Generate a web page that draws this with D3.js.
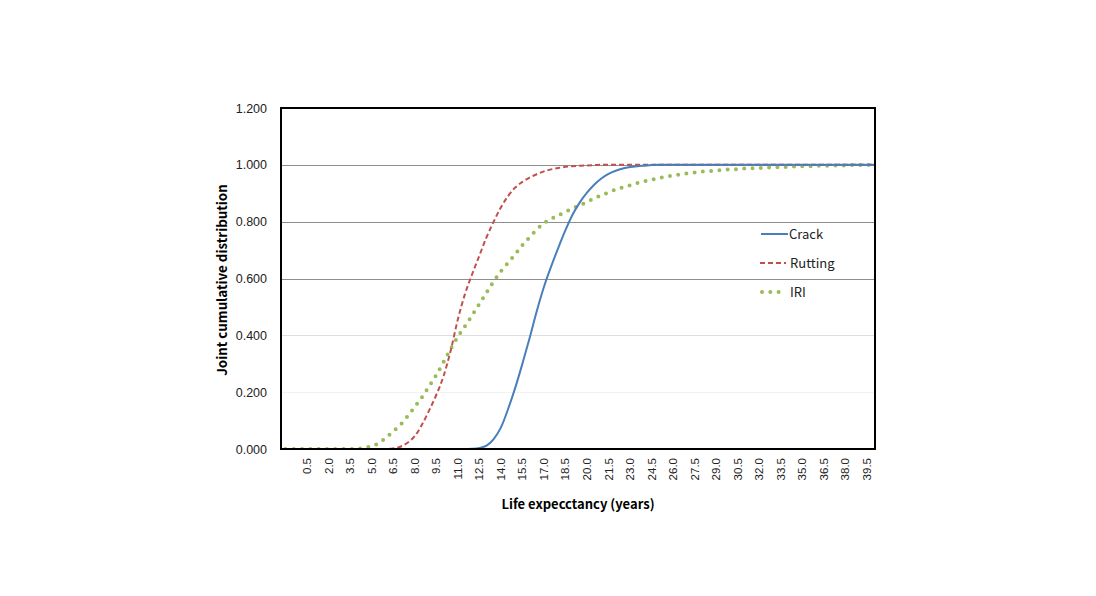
<!DOCTYPE html>
<html>
<head>
<meta charset="utf-8">
<script src="https://cdn.jsdelivr.net/npm/d3@7"></script>
<style>
  body { margin: 0; background: #fff; }
  svg { display: block; }
</style>
</head>
<body>
<svg id="chart" width="1096" height="596"></svg>
<script>
// ---- data (years at 0.5 step, from -1.0 to 40.0 : 83 points) ----
const years = d3.range(-1.0, 40.01, 0.5).map(v => +v.toFixed(1));

const crack = [
  0,0,0,0,0,0,0,0,0,0,                                         // -1.0 .. 3.5
  0,0,0,0,0,0,0,0,0,0,                                         // 4.0 .. 8.5
  0,0,0,0,0,0,                                                 // 9.0 .. 11.5
  0.001,0.004,0.012,0.035,0.075,0.14,0.215,0.30,0.39,0.485,    // 12.0 .. 16.5
  0.57,0.642,0.708,0.77,0.825,0.868,0.902,0.93,0.952,0.968,    // 17.0 .. 21.5
  0.979,0.987,0.992,0.995,0.997,0.999,                         // 22.0 .. 24.5
  1,1,1,1,1,1,1,1,1,1,                                         // 25.0 .. 29.5
  1,1,1,1,1,1,1,1,1,1,                                         // 30.0 .. 34.5
  1,1,1,1,1,1,1,1,1,1,                                         // 35.0 .. 39.5
  1                                                            // 40.0
];

const rutting = [
  0,0,0,0,0,0,0,0,0,0,                                         // -1.0 .. 3.5
  0,0,0,0,0,                                                   // 4.0 .. 6.0
  0.002,0.008,0.022,0.045,0.085,0.135,0.19,0.255,0.345,0.455,  // 6.5 .. 11.0
  0.545,0.615,0.68,0.745,0.80,0.85,0.89,0.92,0.94,0.955,       // 11.5 .. 16.0
  0.967,0.977,0.984,0.989,0.993,0.995,0.997,0.998,0.999,       // 16.5 .. 20.5
  1,1,1,1,1,1,1,1,1,1,                                         // 21.0 .. 25.5
  1,1,1,1,1,1,1,1,1,1,                                         // 26.0 .. 30.5
  1,1,1,1,1,1,1,1,1,1,                                         // 31.0 .. 35.5
  1,1,1,1,1,1,1,1,1                                            // 36.0 .. 40.0
];

const iri = [
  0,0,0,0,0,0,0,0,0,0,                                         // -1.0 .. 3.5
  0.001,0.004,0.01,0.02,0.04,0.062,0.085,0.115,0.148,0.182,    // 4.0 .. 8.5
  0.22,0.26,0.305,0.352,0.395,0.432,0.47,0.51,0.55,0.59,       // 9.0 .. 13.5
  0.625,0.655,0.685,0.717,0.745,0.772,0.795,0.81,0.822,0.835,  // 14.0 .. 18.5
  0.847,0.858,0.869,0.882,0.893,0.903,0.913,0.921,0.928,0.936, // 19.0 .. 23.5
  0.942,0.948,0.953,0.958,0.962,0.966,0.97,0.973,0.976,0.978,  // 24.0 .. 28.5
  0.98,0.982,0.984,0.985,0.987,0.988,0.989,0.99,0.991,0.992,   // 29.0 .. 33.5
  0.993,0.994,0.995,0.995,0.996,0.997,0.997,0.998,0.998,0.999, // 34.0 .. 38.5
  0.999,0.999,1.0                                              // 39.0 .. 40.0
];

const xTickLabels = ["0.5","2.0","3.5","5.0","6.5","8.0","9.5","11.0","12.5","14.0","15.5","17.0","18.5",
  "20.0","21.5","23.0","24.5","26.0","27.5","29.0","30.5","32.0","33.5","35.0","36.5","38.0","39.5"];
const yTicks = [0, 0.2, 0.4, 0.6, 0.8, 1.0, 1.2];

const seriesNames = ["Crack", "Rutting", "IRI"];

// ---- layout ----
const svg = d3.select("#chart");
const pLeft = 281, pRight = 875, pTop = 108, pBottom = 449;

const x = d3.scaleLinear().domain([0.5, 39.5]).range([307, 867]);
const y = d3.scaleLinear().domain([0, 1.2]).range([pBottom, pTop]);

const gridColor = d => d >= 0.55 ? "#8e8e8e" : (d > 0.3 ? "#dedede" : "#f2f2f2");

// gridlines
svg.append("g").selectAll("line")
  .data(yTicks.filter(d => d > 0 && d < 1.2))
  .join("line")
  .attr("x1", pLeft).attr("x2", pRight)
  .attr("y1", d => Math.round(y(d)) + 0.5).attr("y2", d => Math.round(y(d)) + 0.5)
  .attr("stroke", gridColor)
  .attr("stroke-width", 1);

// y axis labels
const yAxis = d3.axisLeft(y).tickValues(yTicks).tickFormat(d3.format(".3f")).tickSize(0).tickPadding(14);
const gy = svg.append("g").attr("transform", `translate(${pLeft},0)`).call(yAxis);
gy.select(".domain").remove();
gy.selectAll("text").attr("font-family", "Liberation Sans, Arial, sans-serif").attr("font-size", 12.5).attr("fill", "#222");

// x axis labels (rotated)
const gx = svg.append("g").attr("transform", `translate(0,${pBottom})`);
gx.selectAll("text")
  .data(xTickLabels)
  .join("text")
  .attr("transform", d => `translate(${x(+d) + 4},9) rotate(-90)`)
  .attr("text-anchor", "end")
  .attr("font-family", "Liberation Sans, Arial, sans-serif")
  .attr("font-size", 11.5)
  .attr("fill", "#222")
  .text(d => d);

// lines
const line = d3.line().x((d, i) => x(years[i])).y(d => y(d)).curve(d3.curveMonotoneX);

svg.append("clipPath").attr("id", "plotclip")
  .append("rect").attr("x", pLeft).attr("y", pTop - 5).attr("width", pRight - pLeft).attr("height", pBottom - pTop + 5);

const plot = svg.append("g").attr("clip-path", "url(#plotclip)");

plot.append("path").datum(iri)
  .attr("d", line).attr("fill", "none")
  .attr("stroke", "#9bbb59").attr("stroke-width", 4)
  .attr("stroke-linecap", "round").attr("stroke-dasharray", "0 8.3");

plot.append("path").datum(rutting)
  .attr("d", line).attr("fill", "none")
  .attr("stroke", "#c0504d").attr("stroke-width", 2)
  .attr("stroke-dasharray", "5 3");

plot.append("path").datum(crack)
  .attr("d", line).attr("fill", "none")
  .attr("stroke", "#4a7ebb").attr("stroke-width", 2);

// plot border
svg.append("rect")
  .attr("x", pLeft).attr("y", pTop).attr("width", pRight - pLeft).attr("height", pBottom - pTop)
  .attr("fill", "none").attr("stroke", "#000").attr("stroke-width", 2);

// axis titles
svg.append("text")
  .attr("x", 578).attr("y", 509)
  .attr("text-anchor", "middle")
  .attr("font-family", "Noto Sans CJK KR, Noto Sans, sans-serif")
  .attr("font-weight", "bold").attr("font-size", 13)
  .attr("fill", "#000")
  .text("Life expecctancy (years)");

svg.append("text")
  .attr("transform", "translate(227,280) rotate(-90)")
  .attr("text-anchor", "middle")
  .attr("font-family", "Noto Sans CJK KR, Noto Sans, sans-serif")
  .attr("font-weight", "bold").attr("font-size", 13.3)
  .attr("fill", "#000")
  .text("Joint cumulative distribution");

// legend
const legend = svg.append("g");
const legendY = [234, 263, 292];
const styles = [
  {stroke: "#4a7ebb", w: 2, dash: null, cap: "butt", x1: 761, x2: 788},
  {stroke: "#c0504d", w: 2, dash: "5 3", cap: "butt", x1: 760, x2: 786},
  {stroke: "#9bbb59", w: 4, dash: "0 8.3", cap: "round", x1: 762, x2: 781}
];
seriesNames.forEach((name, i) => {
  const s = styles[i];
  legend.append("line")
    .attr("x1", s.x1).attr("x2", s.x2).attr("y1", legendY[i]).attr("y2", legendY[i])
    .attr("stroke", s.stroke).attr("stroke-width", s.w)
    .attr("stroke-dasharray", s.dash).attr("stroke-linecap", s.cap);
  legend.append("text")
    .attr("x", i === 0 ? 789 : 790).attr("y", legendY[i] + 5)
    .attr("font-family", "Noto Sans CJK KR, Noto Sans, sans-serif")
    .attr("font-size", 13).attr("fill", "#222")
    .text(name);
});
</script>
</body>
</html>
